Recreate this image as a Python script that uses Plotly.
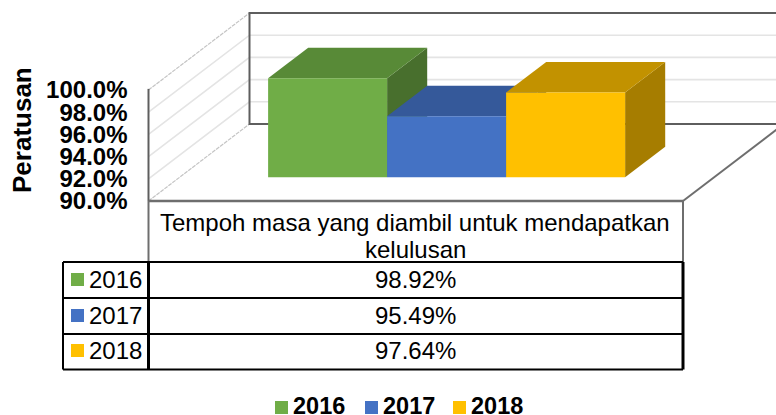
import plotly.graph_objects as go

# ---- data ----
years = ["2016", "2017", "2018"]
values = [98.92, 95.49, 97.64]
category_lines = ["Tempoh masa yang diambil untuk mendapatkan", "kelulusan"]
tick_values = [90, 92, 94, 96, 98, 100]
tick_labels = ["90.0%", "92.0%", "94.0%", "96.0%", "98.0%", "100.0%"]
axis_title = "Peratusan"
front_colors = ["#70AD47", "#4472C4", "#FFC000"]
top_colors = ["#588A37", "#35599A", "#C29200"]
side_colors = ["#486F2D", "#2C4A80", "#A67D00"]

# ---- layout / projection constants ----
W, H = 776, 415
FONT = "Liberation Sans, Arial, sans-serif"
PX_PER_UNIT = 11.1
Y0 = 201                     # pixel row of the 90 % tick
AX_X = 148.5                 # pixel column of the value axis
WALL_DX, WALL_DY = 101, 77   # depth of the chart box, in pixels
BAR_W = 119
BAR_FRONT, BAR_BACK = 0.308, 0.705
BAR_X0 = 237                 # left edge of first bar at depth 0
BASE = 90


def py(p):
    return 90 + (Y0 - p) / PX_PER_UNIT


def paper(p):
    return 1 - p / H


def proj(x, v, d):
    return x + d * WALL_DX, v + d * WALL_DY / PX_PER_UNIT


fig = go.Figure()


def line(pts, color, width=1.0, dash="solid"):
    fig.add_trace(go.Scatter(x=[p[0] for p in pts], y=[p[1] for p in pts], mode="lines",
                             line=dict(color=color, width=width, dash=dash),
                             hoverinfo="skip", showlegend=False))


def poly(pts, color, name):
    fig.add_trace(go.Scatter(x=[p[0] for p in pts], y=[p[1] for p in pts], mode="lines",
                             fill="toself", fillcolor=color, line=dict(width=0, color=color),
                             name=name, hoverinfo="name", showlegend=False))


# walls: gridlines, floor
for t in tick_values[1:-1]:
    line([proj(AX_X, t, 0), proj(AX_X, t, 1), proj(W + 30, t, 1)], "#E4E4E4", 1.6)
line([proj(AX_X, 100, 0), proj(AX_X, 100, 1)], "#C4C4C4", 1.2, "4px,1px")
line([proj(AX_X, 90, 0), proj(AX_X, 90, 1)], "#C4C4C4", 1.2, "4px,1px")
line([proj(W + 30, 100, 1), proj(AX_X, 100, 1), proj(AX_X, 90, 1), proj(W + 30, 90, 1)], "#5E5E5E", 2)
line([proj(683, 90, 0), proj(683, 90, 1)], "#6E6E6E", 2)
line([(AX_X, 90), (AX_X, 100.1)], "#5E5E5E", 2)

# 3D bars
for i, (yr, v) in enumerate(zip(years, values)):
    x0, x1 = BAR_X0 + i * BAR_W, BAR_X0 + (i + 1) * BAR_W
    poly([proj(x1, BASE, BAR_FRONT), proj(x1, v, BAR_FRONT), proj(x1, v, BAR_BACK), proj(x1, BASE, BAR_BACK)],
         side_colors[i], yr)
    poly([proj(x0, v, BAR_FRONT), proj(x1, v, BAR_FRONT), proj(x1, v, BAR_BACK), proj(x0, v, BAR_BACK)],
         top_colors[i], yr)
    poly([proj(x0, BASE, BAR_FRONT), proj(x1, BASE, BAR_FRONT), proj(x1, v, BAR_FRONT), proj(x0, v, BAR_FRONT)],
         front_colors[i], yr)

shapes = []


def seg(x0, p0, x1, p1, color="#000000", width=2):
    shapes.append(dict(type="line", xref="x", yref="paper", x0=x0, x1=x1, y0=paper(p0), y1=paper(p1),
                       line=dict(color=color, width=width)))


def swatch(x, p, color, size=13):
    shapes.append(dict(type="rect", xref="x", yref="paper", x0=x, x1=x + size, y0=paper(p), y1=paper(p + size),
                       fillcolor=color, line=dict(width=0)))


annots = []


def text(x, p, s, anchor="center", bold=False, size=24, angle=0):
    annots.append(dict(xref="x", yref="paper", x=x, y=paper(p), text=f"<b>{s}</b>" if bold else s,
                       showarrow=False, xanchor=anchor, yanchor="middle", textangle=angle,
                       font=dict(family=FONT, size=size, color="#000000"), borderpad=0))


# data table
row_tops = [262, 298, 334, 369]
seg(AX_X, 201, 683, 201, "#6E6E6E", 2.5)
seg(AX_X, 201, AX_X, 262, "#6E6E6E", 2)
seg(683, 201, 683, 262, "#6E6E6E", 2)
seg(63, 262, 683, 262)
seg(63, 298, 683, 298)
seg(63, 334, 683, 334)
seg(63, 369.5, 683, 369.5)
seg(63, 262, 63, 369.5)
seg(AX_X, 262, AX_X, 369.5, width=3)
seg(683, 262, 683, 369.5, width=3)

text(415, 222, category_lines[0])
text(415, 249, category_lines[1])
swatch_rows = [273, 309, 344]
for i, (yr, v) in enumerate(zip(years, values)):
    mid = (row_tops[i] + row_tops[i + 1]) / 2 - 1
    swatch(71, swatch_rows[i], front_colors[i])
    text(87.5, mid, yr, anchor="left")
    text(415, mid, f"{v:.2f}%")

# bottom legend
for yr, c, sx in zip(years, front_colors, [275, 365, 453]):
    swatch(sx, 401, c)
    text(sx + 17, 405.5, yr, anchor="left", bold=True, size=23.5)

text(22, 130, axis_title, bold=True, size=26, angle=-90)

fig.update_layout(
    width=W, height=H, margin=dict(l=0, r=0, t=0, b=0),
    paper_bgcolor="white", plot_bgcolor="white", showlegend=False,
    shapes=shapes, annotations=annots,
    xaxis=dict(range=[0, W], visible=False, fixedrange=True),
    yaxis=dict(range=[py(H), py(0)], anchor="free", position=AX_X / W, side="left",
               tickmode="array", tickvals=tick_values, ticktext=[f"<b>{s}</b>" for s in tick_labels],
               tickfont=dict(family=FONT, size=24, color="#000000"), ticks="", ticklabelstandoff=21,
               showgrid=False, zeroline=False, showline=False, fixedrange=True),
)

fig.write_html("out.html", config={"displayModeBar": False},
               post_script="document.body.style.margin='0';document.body.style.overflow='hidden';")
